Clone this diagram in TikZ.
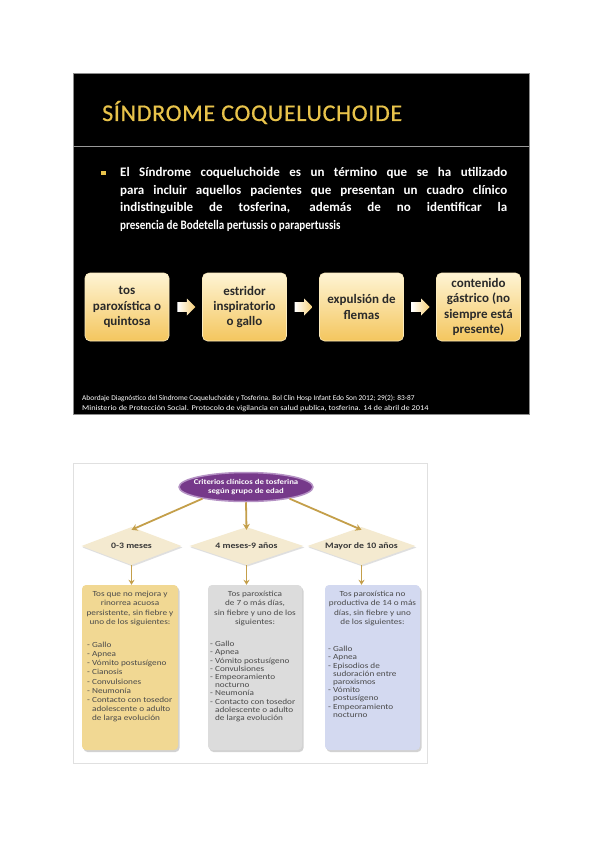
\documentclass[tikz,border=0pt]{standalone}
\usepackage{fontspec}
\setmainfont{Carlito}
\newfontfamily\titlefont[LetterSpace=2.8,FakeBold=0.6]{Carlito}
\newfontfamily\widefont[FakeStretch=1.18]{Carlito}
\newfontfamily\wideref[FakeStretch=1.13]{Carlito}
\usetikzlibrary{shapes.geometric,shadows,arrows.meta,calc}
\definecolor{gold}{HTML}{E8C34B}
\definecolor{boxtop}{HTML}{FEF4D4}
\definecolor{boxbot}{HTML}{F4C65E}
\definecolor{boxtxt}{HTML}{2A2A2A}
\definecolor{purp}{HTML}{76398A}
\definecolor{purpline}{HTML}{B592C4}
\definecolor{arrgold}{HTML}{C49F4A}
\definecolor{dia}{HTML}{F4EAD0}
\definecolor{lgold}{HTML}{F1D893}
\definecolor{lgrey}{HTML}{DCDCDC}
\definecolor{lblue}{HTML}{D3D9F0}
\definecolor{smalltxt}{HTML}{4A4A4A}
\tikzset{
  stepbox/.style={rectangle, rounded corners=5pt, minimum width=84pt, minimum height=68pt,
    top color=boxtop, bottom color=boxbot, draw=boxtop!80!boxbot, line width=0.6pt,
    align=center, text=boxtxt, font=\bfseries\fontsize{13}{15.2}\selectfont, inner sep=1pt},
  blockarrow/.style={left color=white, right color=boxbot!85!white},
  crit/.style={rectangle, rounded corners=4pt, minimum height=165pt, inner sep=0pt,
    drop shadow={opacity=0.35, shadow xshift=1.5pt, shadow yshift=-2pt, fill=gray}},
  agebox/.style={diamond, minimum height=38pt, inner sep=0pt, aspect=2.9,
    fill=dia, font=\widefont\bfseries\fontsize{8.3}{9}\selectfont, text=black!78,
    drop shadow={opacity=0.25, shadow xshift=1pt, shadow yshift=-1.5pt, fill=gray}},
  headtxt/.style={anchor=north, align=center, inner sep=0pt, text=smalltxt,
    font=\widefont\fontsize{7.8}{9.5}\selectfont},
  listtxt/.style={anchor=north west, align=left, inner sep=0pt, text=smalltxt,
    font=\widefont\fontsize{7.8}{9.1}\selectfont},
  flow/.style={draw=arrgold, line width=1.8pt, -{Stealth[length=6pt,width=7pt]}},
  down/.style={draw=arrgold, line width=1.5pt, -{Stealth[length=5pt,width=6pt]}}
}
\begin{document}
\begin{tikzpicture}[x=1pt,y=-1pt]
\useasboundingbox (0,0) rectangle (600,848);
\fill[white] (0,0) rectangle (600,848);

% ---------- slide ----------
\fill[black] (73,73) rectangle (529,414);
\draw[black!45, line width=0.8pt] (73,73) rectangle (529,414);
\draw[black!40, line width=1.2pt] (73,146.5) -- (529,146.5);

\node[anchor=base west, inner sep=0pt, text=gold, font=\titlefont\fontsize{24}{28}\selectfont] (title) at (102,121) {SÍNDROME COQUELUCHOIDE};

\node[fill=gold, minimum size=4.5pt, inner sep=0pt] (bullet) at (103.5,173) {};
\node[anchor=north west, text width=387pt, align=justify, inner sep=0pt, text=white,
  font=\bfseries\fontsize{13}{17.8}\selectfont] (body) at (120,167)
  {El Síndrome coqueluchoide es un término que se ha utilizado\linebreak
   para incluir aquellos pacientes que presentan un cuadro clínico\linebreak
   indistinguible de tosferina, además de no identificar la\linebreak
   \scalebox{0.85}[1]{presencia de Bodetella pertussis o parapertussis}};

\node[stepbox] (b1) at (127,307) {tos\\paroxística o\\quintosa};
\node[stepbox] (b2) at (244.5,307) {estridor\\inspiratorio\\o gallo};
\node[stepbox] (b3) at (361.5,307) {expulsión de\\flemas};
\node[stepbox] (b4) at (478.5,307) {contenido\\gástrico (no\\siempre está\\presente)};

\coordinate (a1) at ($(b1.east)!0.5!(b2.west)$);
\coordinate (a2) at ($(b2.east)!0.5!(b3.west)$);
\coordinate (a3) at ($(b3.east)!0.5!(b4.west)$);
\foreach \a in {a1,a2,a3}{
  \shade[blockarrow] ($(\a)+(-8.5,-4.8)$) -- ($(\a)+(1,-4.8)$) -- ($(\a)+(1,-8.5)$) -- ($(\a)+(9.5,0)$)
    -- ($(\a)+(1,8.5)$) -- ($(\a)+(1,4.8)$) -- ($(\a)+(-8.5,4.8)$) -- cycle;
}

\node[anchor=base west, inner sep=0pt, text=white, font=\fontsize{7.4}{8}\selectfont] (ref1) at (82,400)
  {Abordaje Diagnóstico del Síndrome Coqueluchoide y Tosferina. Bol Clin Hosp Infant Edo Son 2012; 29(2): 83-87};
\node[anchor=base west, inner sep=0pt, text=white, font=\wideref\fontsize{7.4}{8}\selectfont] (ref2) at (82,410)
  {Ministerio de Protección Social. Protocolo de vigilancia en salud publica, tosferina. 14 de abril de 2014};

% ---------- lower figure ----------
\draw[black!12, line width=0.8pt] (73,463) rectangle (427,763);

\node[ellipse, fill=purp, draw=purpline, line width=1.5pt, minimum width=134pt, minimum height=29pt,
  inner xsep=-12pt, inner ysep=-1pt, align=center, text=white,
  font=\widefont\bfseries\fontsize{7.4}{8.8}\selectfont] (crit) at (246,487)
  {Criterios clínicos de tosferina\\según grupo de edad};

\node[agebox, minimum width=100pt] (d1) at (131.5,546) {0-3 meses};
\node[agebox, minimum width=114pt] (d2) at (246.5,546) {4 meses-9 años};
\node[agebox, minimum width=108pt] (d3) at (361.5,546) {Mayor de 10 años};

\draw[flow] (crit.195) -- ($(d1.north)+(0,3)$);
\draw[flow] (crit.south) -- ($(d2.north)+(0,3)$);
\draw[flow] (crit.345) -- ($(d3.north)+(0,3)$);

\node[crit, fill=lgold, minimum width=96pt] (c1) at (130,667.5) {};
\node[crit, fill=lgrey, minimum width=94pt] (c2) at (255,667.5) {};
\node[crit, fill=lblue, minimum width=95pt] (c3) at (372.5,667.5) {};

\draw[down] (d1.south) -- (d1.south |- c1.north);
\draw[down] (d2.south) -- (d2.south |- c2.north);
\draw[down] (d3.south) -- (d3.south |- c3.north);

\node[headtxt] (h1) at ($(c1.north)+(0,6)$) {Tos que no mejora y\\rinorrea acuosa\\persistente, sin fiebre y\\uno de los siguientes:};
\node[listtxt] (l1) at (87,642) {- Gallo\\- Apnea\\- Vómito postusígeno\\- Cianosis\\- Convulsiones\\- Neumonía\\- Contacto con tosedor\\\phantom{- }adolescente o adulto\\\phantom{- }de larga evolución};

\node[headtxt] (h2) at ($(c2.north)+(0,6)$) {Tos paroxística\\de 7 o más días,\\sin fiebre y uno de los\\siguientes:};
\node[listtxt, font=\widefont\fontsize{7.8}{8.2}\selectfont] (l2) at (210,641) {- Gallo\\- Apnea\\- Vómito postusígeno\\- Convulsiones\\- Empeoramiento\\\phantom{- }nocturno\\- Neumonía\\- Contacto con tosedor\\\phantom{- }adolescente o adulto\\\phantom{- }de larga evolución};

\node[headtxt] (h3) at ($(c3.north)+(0,6)$) {Tos paroxística no\\productiva de 14 o más\\días, sin fiebre y uno\\de los siguientes:};
\node[listtxt, font=\widefont\fontsize{7.8}{8.2}\selectfont] (l3) at (328,646) {- Gallo\\- Apnea\\- Episodios de\\\phantom{- }sudoración entre\\\phantom{- }paroxismos\\- Vómito\\\phantom{- }postusígeno\\- Empeoramiento\\\phantom{- }nocturno};
\end{tikzpicture}
\end{document}
